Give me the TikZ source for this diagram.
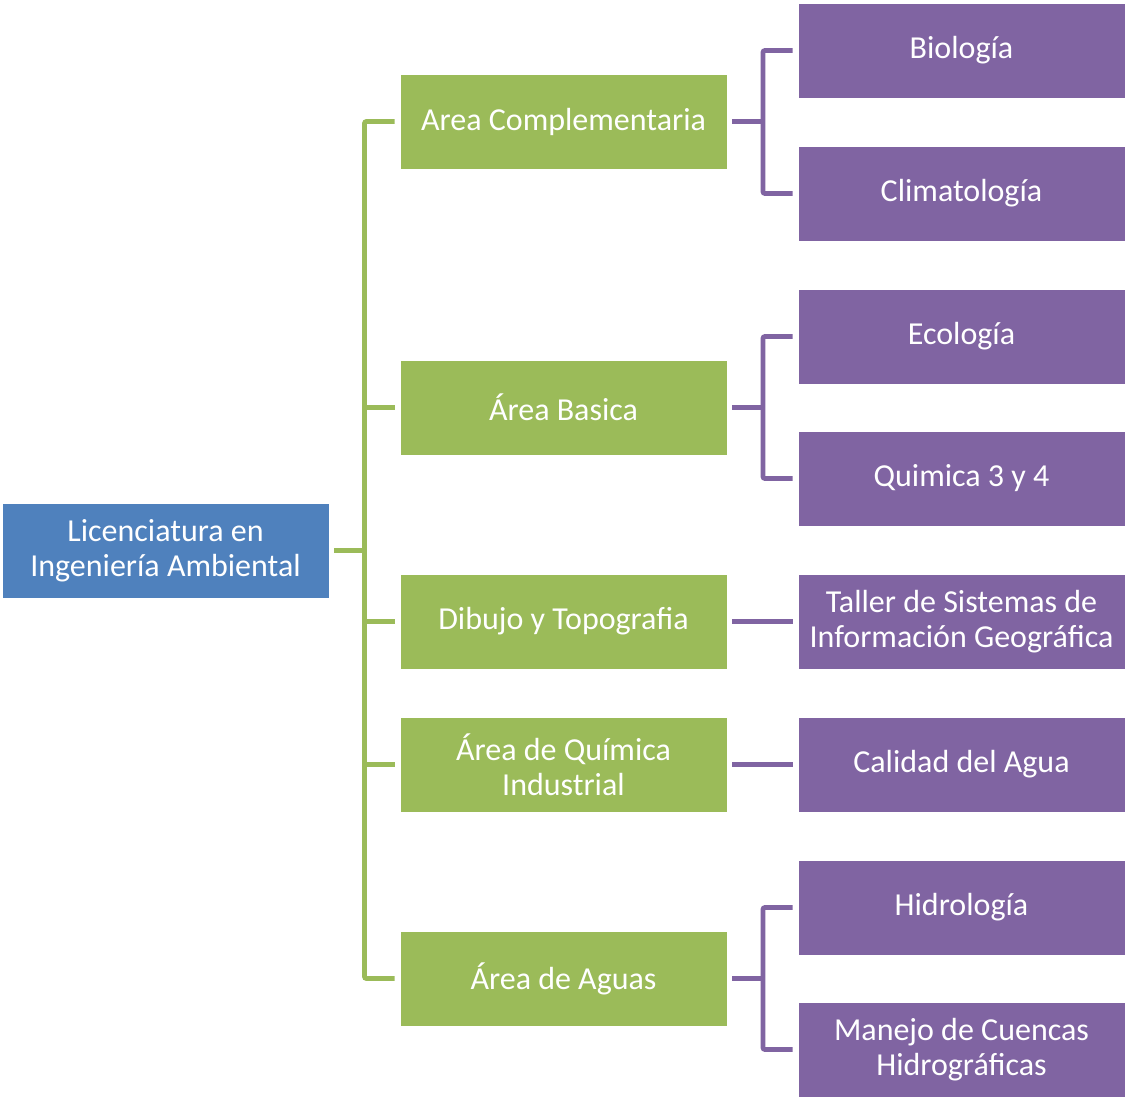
\documentclass[tikz,border=0pt]{standalone}
\usepackage{fontspec}
\setmainfont{Carlito}
\definecolor{cblue}{HTML}{4F81BD}
\definecolor{cgreen}{HTML}{9BBB59}
\definecolor{cpurple}{HTML}{8064A2}
\begin{document}
\begin{tikzpicture}[x=1pt,y=-1pt,
  box/.style={minimum width=327pt,minimum height=95pt,inner sep=0pt,text=white,
    draw=white,line width=0.6pt,align=center,font=\fontsize{32}{35}\selectfont},
  rootbox/.style={box,fill=cblue},
  gbox/.style={box,fill=cgreen},
  pbox/.style={box,fill=cpurple},
  gl/.style={draw=cgreen,line width=4.8pt,rounded corners=2pt},
  pl/.style={draw=cpurple,line width=4.8pt,rounded corners=2pt}]
\useasboundingbox (0,0) rectangle (1127,1098);
\node[rootbox] (root) at (165.5,550.5) {Licenciatura en\\Ingeniería Ambiental};
\node[gbox] (g1) at (563.5,121.5) {Area Complementaria};
\node[gbox] (g2) at (563.5,407.5) {Área Basica};
\node[gbox] (g3) at (563.5,621.5) {Dibujo y Topografia};
\node[gbox] (g4) at (563.5,764.5) {Área de Química\\Industrial};
\node[gbox] (g5) at (563.5,978.5) {Área de Aguas};
\node[pbox] (p1) at (961.5,50.5) {Biología};
\node[pbox] (p2) at (961.5,193.5) {Climatología};
\node[pbox] (p3) at (961.5,336.5) {Ecología};
\node[pbox] (p4) at (961.5,478.5) {Quimica 3 y 4};
\node[pbox] (p5) at (961.5,621.5) {Taller de Sistemas de\\Información Geográfica};
\node[pbox] (p6) at (961.5,764.5) {Calidad del Agua};
\node[pbox] (p7) at (961.5,907.5) {Hidrología};
\node[pbox] (p8) at (961.5,1049.5) {Manejo de Cuencas\\Hidrográficas};
% green trunk
\coordinate (gt) at (364.5,550.5);
\draw[gl] ([xshift=5pt]root.east) -- (gt);
\draw[gl] ([xshift=-5pt]g1.west) -- (g1.west -| gt) -- (g5.west -| gt) -- ([xshift=-5pt]g5.west);
\draw[gl] ([xshift=-5pt]g2.west) -- (g2.west -| gt);
\draw[gl] ([xshift=-5pt]g3.west) -- (g3.west -| gt);
\draw[gl] ([xshift=-5pt]g4.west) -- (g4.west -| gt);
% purple connectors
\coordinate (pt1) at (763,121.5);
\draw[pl] ([xshift=5pt]g1.east) -- (pt1);
\draw[pl] ([xshift=-5pt]p1.west) -- (p1.west -| pt1) -- (p2.west -| pt1) -- ([xshift=-5pt]p2.west);
\coordinate (pt2) at (763,407.5);
\draw[pl] ([xshift=5pt]g2.east) -- (pt2);
\draw[pl] ([xshift=-5pt]p3.west) -- (p3.west -| pt2) -- (p4.west -| pt2) -- ([xshift=-5pt]p4.west);
\draw[pl] ([xshift=5pt]g3.east) -- ([xshift=-5pt]p5.west);
\draw[pl] ([xshift=5pt]g4.east) -- ([xshift=-5pt]p6.west);
\coordinate (pt3) at (763,978.5);
\draw[pl] ([xshift=5pt]g5.east) -- (pt3);
\draw[pl] ([xshift=-5pt]p7.west) -- (p7.west -| pt3) -- (p8.west -| pt3) -- ([xshift=-5pt]p8.west);
\end{tikzpicture}
\end{document}
